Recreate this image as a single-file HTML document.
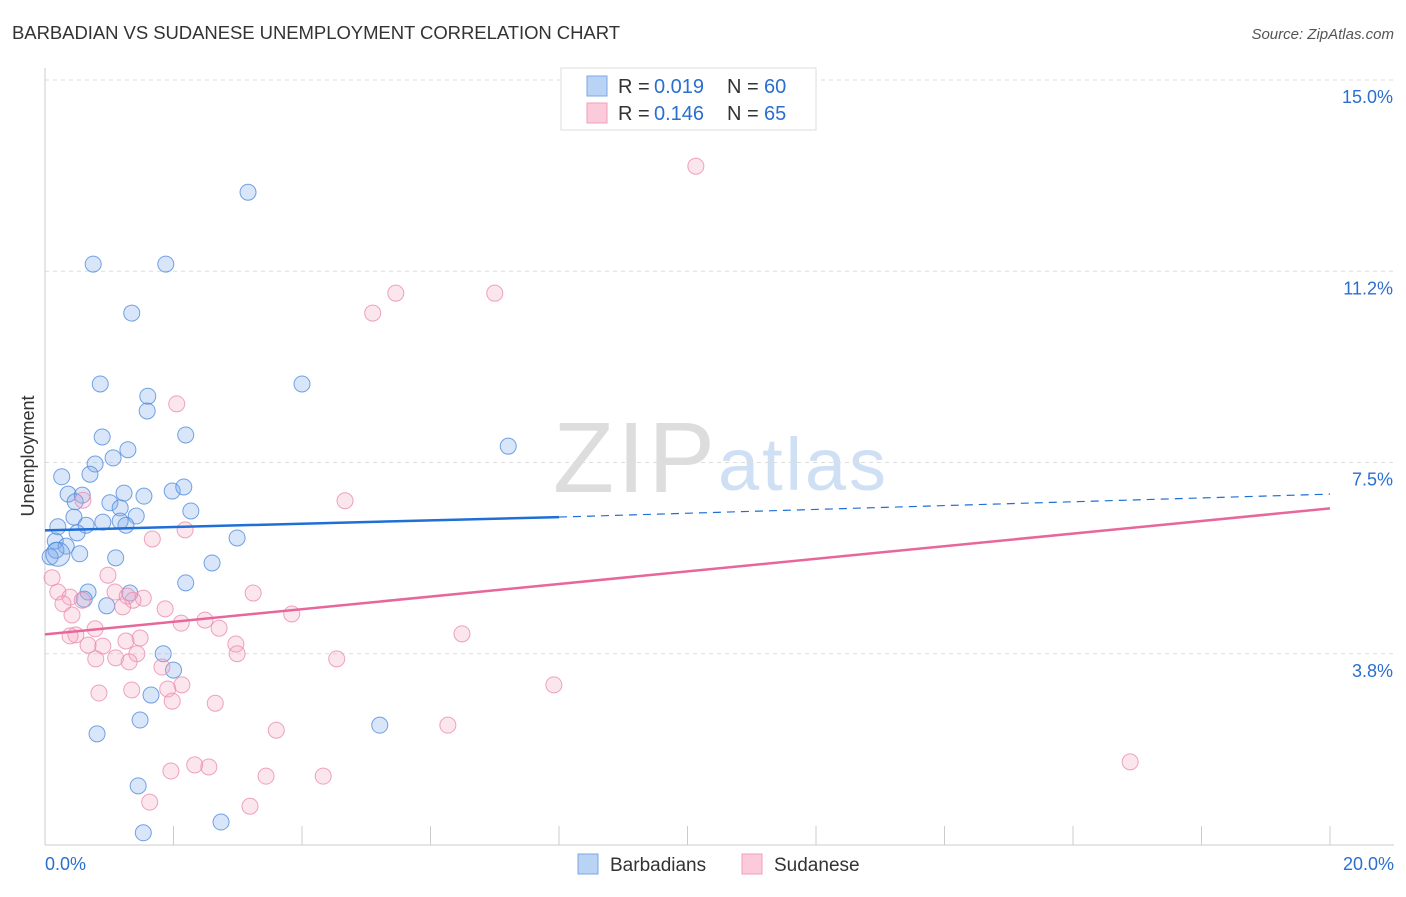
<!DOCTYPE html>
<html><head><meta charset="utf-8"><style>
body{margin:0;background:#fff;font-family:"Liberation Sans",sans-serif;}
svg text{font-family:"Liberation Sans",sans-serif;}
</style></head><body>
<svg width="1406" height="892" id="c">
<text x="12" y="39" font-size="18.5" fill="#333" textLength="608">BARBADIAN VS SUDANESE UNEMPLOYMENT CORRELATION CHART</text>
<text x="1394" y="39" font-size="15" fill="#555" font-style="italic" text-anchor="end">Source: ZipAtlas.com</text>
<text x="34" y="456" font-size="18" fill="#333" transform="rotate(-90 34 456)" text-anchor="middle">Unemployment</text>
<text x="553" y="492" font-size="100" fill="#ddd" font-family="Liberation Serif" textLength="162">ZIP</text>
<text x="718" y="490" font-size="74" fill="#cfe0f5" textLength="168">atlas</text>
<g id="grid"></g><g id="pts"></g><g id="lines"></g>
<g>
<rect x="561" y="68" width="255" height="62" fill="#fff" stroke="#ddd"/>
<rect x="587" y="76" width="20" height="20" fill="#b9d3f5" stroke="#7aa7e5"/>
<rect x="587" y="103" width="20" height="20" fill="#fbcadb" stroke="#f0a0bb"/>
<text x="618" y="93" font-size="20" fill="#333">R =</text><text x="654" y="93" font-size="20" fill="#2a6fd0">0.019</text>
<text x="727" y="93" font-size="20" fill="#333">N =</text><text x="764" y="93" font-size="20" fill="#2a6fd0">60</text>
<text x="618" y="120" font-size="20" fill="#333">R =</text><text x="654" y="120" font-size="20" fill="#2a6fd0">0.146</text>
<text x="727" y="120" font-size="20" fill="#333">N =</text><text x="764" y="120" font-size="20" fill="#2a6fd0">65</text>
</g>
<g>
<rect x="578" y="854" width="20" height="20" fill="#b9d3f5" stroke="#7aa7e5"/>
<text x="610" y="871" font-size="19" fill="#333">Barbadians</text>
<rect x="742" y="854" width="20" height="20" fill="#fbcadb" stroke="#f0a0bb"/>
<text x="774" y="871" font-size="19" fill="#333">Sudanese</text>
</g>
</svg>
<script>
const yTicks=[15,11.25,7.5,3.75];
const yTickLabels=["15.0%","11.2%","7.5%","3.8%"];
const xTickLabels=["0.0%","20.0%"];
const blueX=[3.16,0.75,1.88,1.35,0.86,4.0,1.60,1.59,0.89,2.19,1.29,1.06,7.21,0.78,0.26,0.70,0.36,0.58,1.23,1.54,1.98,2.16,1.01,1.17,0.47,2.27,1.42,0.45,0.90,1.17,1.26,0.64,0.20,0.50,2.99,0.16,0.33,0.17,0.54,0.08,1.10,2.60,2.19,0.67,1.32,0.61,0.96,1.84,2.0,1.65,1.48,5.21,0.81,1.45,2.74,1.53];
const blueY=[12.80,11.39,11.39,10.43,9.04,9.04,8.80,8.51,8.0,8.04,7.75,7.59,7.82,7.47,7.22,7.27,6.88,6.86,6.90,6.84,6.94,7.02,6.71,6.61,6.73,6.55,6.45,6.43,6.33,6.35,6.27,6.27,6.24,6.12,6.02,5.96,5.86,5.78,5.71,5.65,5.63,5.53,5.14,4.96,4.94,4.82,4.69,3.75,3.43,2.94,2.45,2.35,2.18,1.16,0.45,0.24];
const pinkX=[10.13,5.46,7.0,5.10,2.05,4.67,0.59,2.18,1.67,0.11,0.98,0.20,0.39,0.28,1.09,1.28,1.53,3.24,1.37,0.58,1.21,1.87,0.42,3.84,2.49,2.12,2.71,0.78,0.48,0.39,6.49,1.48,1.26,2.97,0.67,0.90,1.43,2.99,1.10,1.31,0.79,4.54,1.82,2.13,1.91,7.92,1.35,0.84,1.98,2.65,3.60,6.27,16.89,2.33,2.55,1.96,3.44,4.33,1.63,3.19];
const pinkY=[13.31,10.82,10.82,10.43,8.65,6.75,6.76,6.18,6.0,5.24,5.29,4.96,4.86,4.73,4.96,4.88,4.84,4.94,4.80,4.80,4.67,4.63,4.51,4.53,4.41,4.35,4.25,4.24,4.12,4.10,4.14,4.06,4.0,3.94,3.92,3.90,3.75,3.75,3.67,3.59,3.65,3.65,3.49,3.14,3.06,3.14,3.04,2.98,2.82,2.78,2.25,2.35,1.63,1.57,1.53,1.45,1.35,1.35,0.84,0.76];
const blueTrend=[6.17,6.43,6.88];
const pinkTrend=[4.13,6.6];
const trendX=[0,8,20];
const sx=v=>45+v/20*1285, sy=v=>845-v/15*765;
const NS="http://www.w3.org/2000/svg";
function mk(t,a,p){const e=document.createElementNS(NS,t);for(const k in a)e.setAttribute(k,a[k]);p.appendChild(e);return e;}
const g=document.getElementById('grid');
yTicks.forEach((v,i)=>{
 const l=mk('line',{x1:45,x2:1394,y1:sy(v),y2:sy(v),stroke:'#ddd','stroke-dasharray':'4,4'},g);
 
 
 const t=mk('text',{x:1393,y:sy(v)+23,'font-size':18,fill:'#2a6fd0','text-anchor':'end'},g);
 t.textContent=yTickLabels[i];
 
 
});
mk('line',{x1:45,x2:45,y1:68,y2:845,stroke:'#ccc'},g);
mk('line',{x1:45,x2:1394,y1:845,y2:845,stroke:'#ccc'},g);
for(let i=0;i<=10;i++){mk('line',{x1:sx(i*2),x2:sx(i*2),y1:826,y2:845,stroke:'#ccc'},g);}
[[0,'start',45],[20,'end',1394]].forEach((d,i)=>{
 const t=mk('text',{x:d[2],y:870,'font-size':18,fill:'#2a6fd0','text-anchor':d[1]},g);
 t.textContent=xTickLabels[i];
 
 
});
const p=document.getElementById('pts');
blueX.forEach((x,i)=>{
 const c=mk('circle',{cx:sx(x),cy:sy(blueY[i]),r:8,fill:'rgba(120,165,235,0.28)',stroke:'rgba(80,140,220,0.8)','stroke-width':1},p);
 
 
});
pinkX.forEach((x,i)=>{
 const c=mk('circle',{cx:sx(x),cy:sy(pinkY[i]),r:8,fill:'rgba(245,165,195,0.28)',stroke:'rgba(235,140,175,0.8)','stroke-width':1},p);
 
 
});
const big=mk('circle',{cx:sx(0.2),cy:sy(5.7),r:12,fill:'rgba(120,165,235,0.28)',stroke:'rgba(80,140,220,0.8)'},p);


const L=document.getElementById('lines');
const b1=mk('line',{x1:sx(trendX[0]),y1:sy(blueTrend[0]),x2:sx(trendX[1]),y2:sy(blueTrend[1]),stroke:'#1f6fd6','stroke-width':2.5},L);


const b2=mk('line',{x1:sx(trendX[1]),y1:sy(blueTrend[1]),x2:sx(trendX[2]),y2:sy(blueTrend[2]),stroke:'#1f6fd6','stroke-width':1.2,'stroke-dasharray':'8,6'},L);


const p1=mk('line',{x1:sx(trendX[0]),y1:sy(pinkTrend[0]),x2:sx(trendX[2]),y2:sy(pinkTrend[1]),stroke:'#e8679a','stroke-width':2.5},L);


</script>
</body></html>
